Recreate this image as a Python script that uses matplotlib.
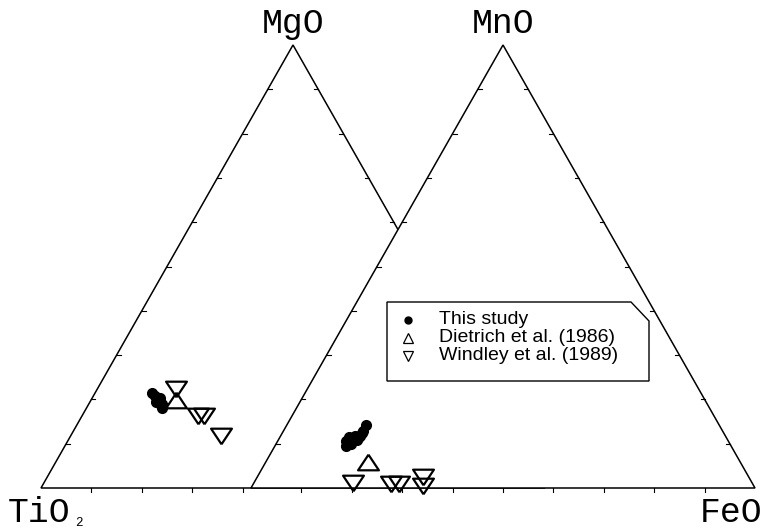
import matplotlib
matplotlib.use("Agg")
import matplotlib.pyplot as plt
from matplotlib.patches import Polygon

# ---------------- data (weight-% in each ternary) ----------------
# Left triangle: TiO2 (bottom-left) - MgO (top) - FeO (bottom-right)
left_study_mgo = [21.4, 20.8, 20.1, 19.4, 18.7, 18.1, 19.4, 20.3, 19.0]
left_study_feo = [11.3, 12.2, 13.0, 13.7, 14.4, 15.0, 13.1, 13.5, 14.6]
left_dietrich_mgo = [19.9]
left_dietrich_feo = [16.9]
left_windley_mgo = [22.3, 16.3, 16.3, 11.7]
left_windley_feo = [15.6, 23.0, 24.2, 29.8]

# Right triangle: (bottom-left) - MnO (top) - FeO (bottom-right)
right_study_mno = [10.6, 11.5, 10.8, 11.7, 10.8, 11.7, 12.4, 14.2, 9.9, 11.3, 12.9, 9.5]
right_study_feo = [13.5, 13.7, 14.6, 14.8, 15.6, 15.8, 15.8, 15.7, 14.9, 15.6, 15.8, 14.0]
right_dietrich_mno = [5.9]
right_dietrich_feo = [20.3]
right_windley_mno = [1.1, 0.9, 0.9, 2.5, 0.5]
right_windley_feo = [19.7, 27.3, 28.9, 32.9, 33.9]

apex_labels = ["MgO", "MnO"]
corner_labels = ["TiO", "FeO"]
legend_labels = ["This study", "Dietrich et al. (1986)", "Windley et al. (1989)"]

# ---------------- layout ----------------
W, H = 778, 528
fig = plt.figure(figsize=(W / 100, H / 100), dpi=100)
ax = fig.add_axes([0, 0, 1, 1])
# units: x in triangle side lengths, y in triangle heights
X0PX, Y0PX, SIDEPX, HPX = 41, 488, 504, 443
ax.set_xlim((0 - X0PX) / SIDEPX, (W - X0PX) / SIDEPX)
ax.set_ylim((Y0PX - H) / HPX, Y0PX / HPX)
ax.axis("off")

RIGHT_DX = 210 / SIDEPX  # offset of right triangle
LW = 1.1


def px(xp, yp):
    """pixel position -> axes fraction (for layout only)"""
    return xp / W, 1 - yp / H


def tern(top, right, dx=0.0):
    xs = [dx + r / 100 + t / 200 for t, r in zip(top, right)]
    ys = [t / 100 for t in top]
    return xs, ys


def triangle(dx, z):
    verts = [(dx, 0), (dx + 1, 0), (dx + 0.5, 1)]
    poly = Polygon(verts, closed=True, facecolor="white", edgecolor="black",
                   lw=LW, zorder=z, joinstyle="miter")
    ax.add_patch(poly)
    tx = 0.008
    for k in range(1, 10):
        f = k / 10
        ax.plot([dx + f / 2, dx + f / 2 + tx], [f, f], color="black", lw=0.8, zorder=z + 0.1)
        ax.plot([dx + 1 - f / 2, dx + 1 - f / 2 - tx], [f, f], color="black", lw=0.8, zorder=z + 0.1)


triangle(0.0, 1)
triangle(RIGHT_DX, 3)

# base ticks
for k in range(1, 5):
    ax.plot([k / 10, k / 10], [0, -0.010], color="black", lw=0.8, zorder=4)
for k in range(1, 10):
    ax.plot([RIGHT_DX + k / 10] * 2, [0, -0.010], color="black", lw=0.8, zorder=4)

# markers
tri_up = [(0, 0.75), (-1, -0.75), (1, -0.75), (0, 0.75)]
tri_dn = [(0, -0.75), (-1, 0.75), (1, 0.75), (0, -0.75)]
circ_kw = dict(marker="o", ms=7, color="black", ls="none", zorder=6)
up_kw = dict(marker=tri_up, ms=15, mfc="none", mec="black", mew=1.6, ls="none", zorder=6)
dn_kw = dict(marker=tri_dn, ms=15, mfc="none", mec="black", mew=1.6, ls="none", zorder=6)

x, y = tern(left_study_mgo, left_study_feo)
ax.plot(x, y, **circ_kw)
x, y = tern(left_dietrich_mgo, left_dietrich_feo)
ax.plot(x, y, **up_kw)
x, y = tern(left_windley_mgo, left_windley_feo)
ax.plot(x, y, **dn_kw)

x, y = tern(right_study_mno, right_study_feo, RIGHT_DX)
ax.plot(x, y, **circ_kw)
x, y = tern(right_dietrich_mno, right_dietrich_feo, RIGHT_DX)
ax.plot(x, y, **up_kw)
x, y = tern(right_windley_mno, right_windley_feo, RIGHT_DX)
ax.plot(x, y, **dn_kw)

# vertex labels
mono = "Liberation Mono"
FS = 25
ax.text(*px(293, 33), apex_labels[0], transform=ax.transAxes, ha="center", va="baseline",
        fontsize=FS, family=mono, zorder=10)
ax.text(*px(503, 33), apex_labels[1], transform=ax.transAxes, ha="center", va="baseline",
        fontsize=FS, family=mono, zorder=10)
ax.text(*px(8, 522), corner_labels[0], transform=ax.transAxes, ha="left",
        va="baseline", fontsize=FS, family=mono)
ax.text(*px(75, 526), "2", transform=ax.transAxes, ha="left",
        va="baseline", fontsize=9, family=mono)
ax.text(*px(762, 522), corner_labels[1], transform=ax.transAxes, ha="right",
        va="baseline", fontsize=FS, family=mono)

# legend frame with clipped corner
box = [(387, 302), (631, 302), (649, 321), (649, 381), (387, 381)]
ax.add_patch(Polygon([px(a, b) for a, b in box], closed=True, transform=ax.transAxes,
                     facecolor="white", edgecolor="black", lw=1.0, zorder=8))

row_y = [320, 338, 356]
leg_markers = [
    dict(marker="o", ms=5, color="black"),
    dict(marker="^", ms=7, mfc="none", mec="black", mew=0.9, color="black"),
    dict(marker="v", ms=7, mfc="none", mec="black", mew=0.9, color="black"),
]
for lab, yy, mk in zip(legend_labels, row_y, leg_markers):
    ax.plot(*px(408, yy), transform=ax.transAxes, ls="none", zorder=9, **mk)
    ax.text(*px(439, yy), lab, transform=ax.transAxes, ha="left", va="center",
            fontsize=14, family="Liberation Sans", zorder=9)

fig.savefig("out.png", dpi=100)
